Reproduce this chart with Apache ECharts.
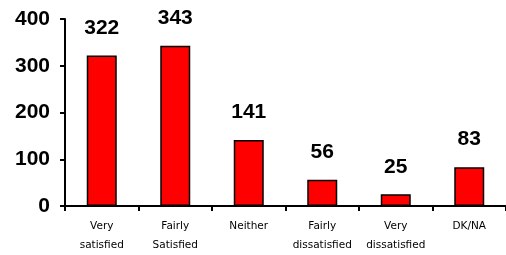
<!DOCTYPE html>
<html><head><meta charset="utf-8">
<script src="https://cdn.jsdelivr.net/npm/echarts@6/dist/echarts.min.js"></script>
<style>html,body{margin:0;padding:0;background:#fff}#c{width:506px;height:255px}</style>
</head><body><div id="c"></div>
<script>
const categories = ["Very\nsatisfied", "Fairly\nSatisfied", "Neither", "Fairly\ndissatisfied", "Very\ndissatisfied", "DK/NA"];
const values = [322, 343, 141, 56, 25, 83];
const yTicks = [0, 100, 200, 300, 400];

const chart = echarts.init(document.getElementById('c'), null, {renderer: 'canvas'});
chart.setOption({
  animation: false,
  grid: {left: 65, right: 0, top: 19, bottom: 47},
  xAxis: {
    type: 'category',
    data: categories,
    axisLine: {lineStyle: {color: '#000', width: 2}},
    axisTick: {show: true, length: 5, lineStyle: {color: '#000', width: 2}},
    axisLabel: {color: '#000', fontFamily: 'DejaVu Sans', fontSize: 10.5, lineHeight: 19, margin: 11, interval: 0}
  },
  yAxis: {
    type: 'value',
    min: yTicks[0], max: yTicks[yTicks.length - 1], interval: 100,
    splitLine: {show: false},
    axisLine: {show: true, lineStyle: {color: '#000', width: 2}},
    axisTick: {show: true, length: 5, lineStyle: {color: '#000', width: 2}},
    axisLabel: {color: '#000', fontFamily: 'Liberation Sans', fontSize: 21, fontWeight: 'bold', margin: 15}
  },
  series: [{
    type: 'bar',
    data: values,
    barWidth: 30,
    itemStyle: {color: '#ff0000', borderColor: '#000', borderWidth: 1.5},
    label: {show: true, position: 'top', distance: 17, color: '#000', fontFamily: 'Liberation Sans', fontSize: 21, fontWeight: 'bold'}
  }]
});
</script></body></html>
